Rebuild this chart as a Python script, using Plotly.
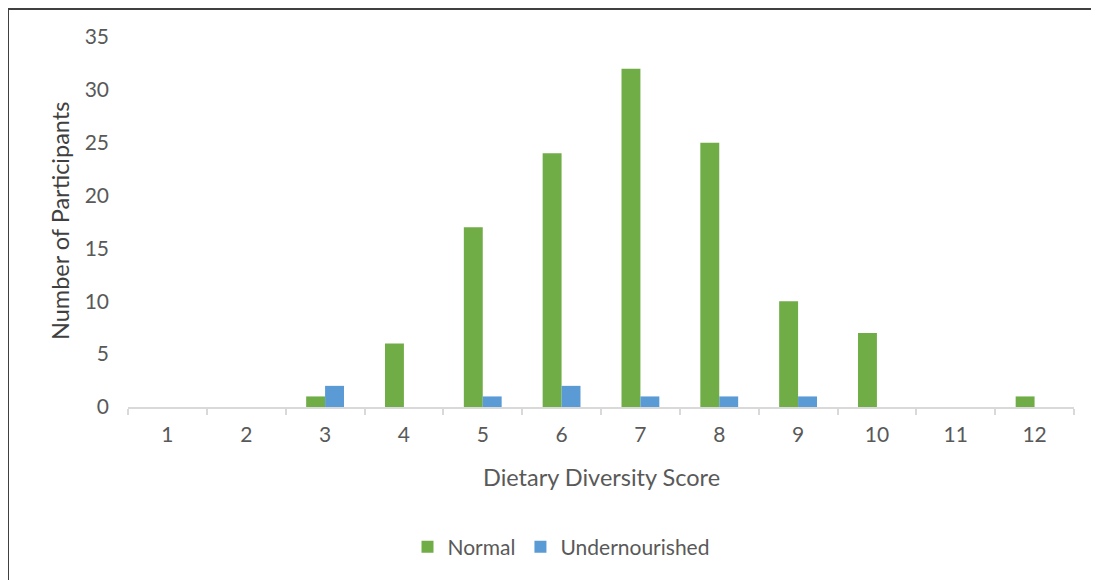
import plotly.graph_objects as go

categories = ["1", "2", "3", "4", "5", "6", "7", "8", "9", "10", "11", "12"]
normal = [0, 0, 1, 6, 17, 24, 32, 25, 10, 7, 0, 1]
undernourished = [0, 0, 2, 0, 1, 2, 1, 1, 1, 0, 0, 0]

FONT = "Lato"
TICK_COLOR = "#595959"

fig = go.Figure()
fig.add_trace(go.Bar(x=categories, y=normal, name="Normal", marker_color="#70AD47",
                     marker_line_width=0))
fig.add_trace(go.Bar(x=categories, y=undernourished, name="Undernourished",
                     marker_color="#5B9BD5", marker_line_width=0))

OFF = 8  # page body margin
W, H = 1099 - OFF, 580 - OFF
L = 128 - OFF
T = 37 - OFF
R = W - (1074 - OFF)
B = H - (407 - OFF)
pw, ph = W - L - R, H - T - B

def px_x(x):
    return (x - OFF - L) / pw

def px_y(y):
    return (H - B - (y - OFF)) / ph

fig.update_layout(
    width=W, height=H,
    margin=dict(l=L, r=R, t=T, b=B),
    paper_bgcolor="white", plot_bgcolor="white",
    barmode="group", bargap=0.52, bargroupgap=0,
    font=dict(family=FONT, size=21, color=TICK_COLOR),
    showlegend=True,
    legend=dict(orientation="h", x=px_x(561), xanchor="center", y=px_y(547),
                yanchor="middle", font=dict(size=21, color=TICK_COLOR),
                tracegroupgap=0, bgcolor="rgba(0,0,0,0)"),
    xaxis=dict(type="category", showline=True, linecolor="#D9D9D9", linewidth=1.5,
               ticks="outside", tickson="boundaries", ticklen=6, tickcolor="#D9D9D9",
               tickwidth=1.5, showgrid=False, zeroline=False,
               tickfont=dict(size=21, color=TICK_COLOR), ticklabelstandoff=8),
    yaxis=dict(range=[0, 35], dtick=5, showline=False, showgrid=False, zeroline=False,
               ticks="", tickfont=dict(size=21, color=TICK_COLOR), ticklabelstandoff=18),
    annotations=[
        dict(text="Dietary Diversity Score", xref="paper", yref="paper",
             x=px_x(601), y=px_y(477), xanchor="center", yanchor="middle",
             showarrow=False, font=dict(size=23.5, color=TICK_COLOR)),
        dict(text="Number of Participants", xref="paper", yref="paper",
             x=px_x(60), y=px_y(221), xanchor="center", yanchor="middle",
             textangle=-90, showarrow=False, font=dict(size=23.5, color="#404040")),
    ],
    shapes=[
        dict(type="rect", xref="paper", yref="paper",
             x0=px_x(8), x1=px_x(1120), y0=px_y(9), y1=px_y(600),
             line=dict(color="#404040", width=2), fillcolor="rgba(0,0,0,0)"),
    ],
)

fig.write_html("out.html")
